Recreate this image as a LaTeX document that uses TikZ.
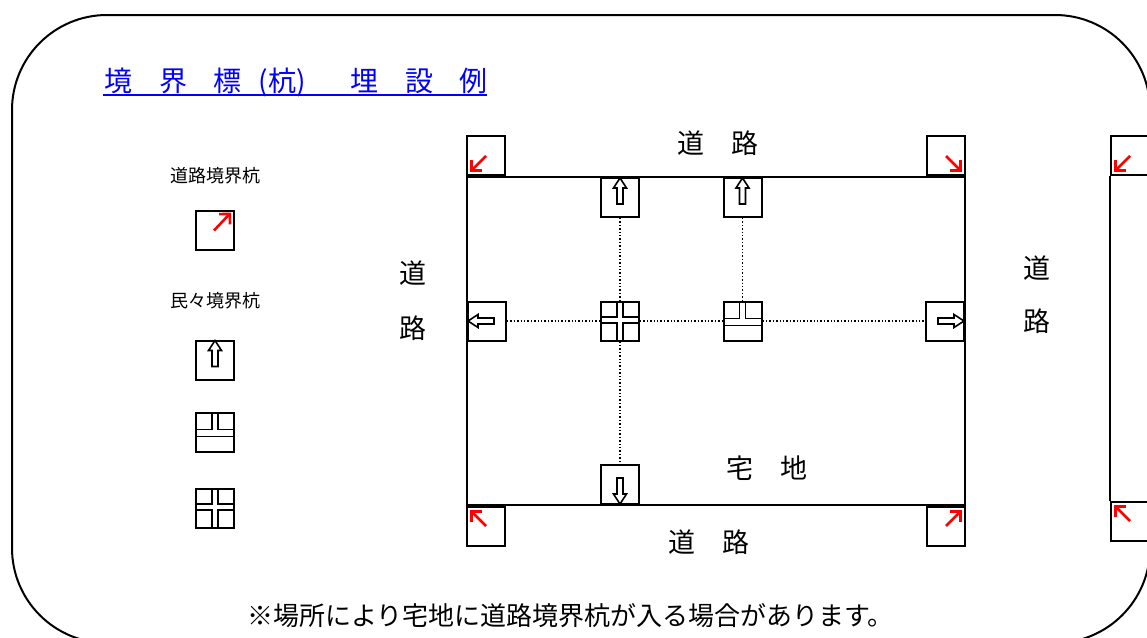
\documentclass[tikz,border=0pt]{standalone}
\usepackage{fontspec}
\newfontfamily\jpfont{Noto Sans CJK JP}
\usetikzlibrary{arrows.meta, positioning}

\newcommand{\jpsz}[1]{\jpfont\fontsize{#1}{#1}\selectfont}
% hollow block arrow, tip at #1, pointing to angle #2
\newcommand{\hollowarrow}[2]{%
    \draw[hollow, shift={(#1)}, rotate=#2] (-1,0) -- (-11,6.5) -- (-11,3) -- (-27,3)
        -- (-27,-3) -- (-11,-3) -- (-11,-6.5) -- cycle;}
% cross shaped peg mark
\newcommand{\crossmark}[1]{%
    \begin{scope}[shift={(#1.center)}]
        \draw[chan] (-3,-19.5) -- (-3,-4) -- (-19,-4);
        \draw[chan] (3,-19.5) -- (3,-4) -- (19,-4);
        \draw[chan] (-19,2) -- (-3,2) -- (-3,19.5);
        \draw[chan] (19,2) -- (3,2) -- (3,19.5);
    \end{scope}}
% T shaped peg mark
\newcommand{\teemark}[1]{%
    \begin{scope}[shift={(#1.center)}]
        \draw[chan] (-3,-19.5) -- (-3,-2.5) -- (-19,-2.5);
        \draw[chan] (3,-19.5) -- (3,-2.5) -- (19,-2.5);
        \draw[chan] (-19,4.5) -- (19,4.5);
    \end{scope}}

\begin{document}
\begin{tikzpicture}[x=1pt, y=-1pt,
    stake/.style={draw, line width=2pt, minimum width=38pt, minimum height=39pt, inner sep=0pt},
    lot/.style={draw, line width=2pt, minimum width=498pt, minimum height=328pt, inner sep=0pt},
    edge/.style={line width=2pt},
    hollow/.style={line width=1.6pt},
    chan/.style={line width=1.6pt},
    redarrow/.style={draw=red, line width=2.6pt, -{Straight Barb[length=7.5pt, width=15pt]}},
    dotline/.style={line width=1.6pt, dash pattern=on 1.4pt off 2pt},
    jp/.style={inner sep=0pt, anchor=base}]
    \useasboundingbox (0,0) rectangle (1147,637);
    \clip (0,0) rectangle (1147,637);

    % frame
    \draw[line width=2pt, rounded corners=95pt] (12,15) rectangle (1150,643);

    % title
    \foreach \c/\x [count=\i] in {境/118, 界/173, 標/227, (杭)/282, 埋/364, 設/419, 例/473.5}
        \node[jp, blue, font=\jpsz{28}] (title\i) at (\x,91) {\c};
    \draw[blue, line width=1.8pt] (103,95) -- (487,95);

    % legend
    \node[jp, font=\jpsz{18}] (roadpeg) at (215,182) {道路境界杭};
    \node[stake] (leg1) at (215,230) {};
    \node[jp, font=\jpsz{18}] (privpeg) at (215,307) {民々境界杭};
    \node[stake] (leg2) at (215,360) {};
    \node[stake] (leg3) at (215,432) {};
    \node[stake] (leg4) at (215,508) {};
    \hollowarrow{leg2.north}{90}
    \teemark{leg3}
    \crossmark{leg4}

    % lot
    \node[lot] (lot) at (716,341) {};
    \node[stake, anchor=south west] (tl) at (lot.north west) {};
    \node[stake, anchor=south east] (tr) at (lot.north east) {};
    \node[stake, anchor=north west] (bl) at (lot.south west) {};
    \node[stake, anchor=north east] (br) at (lot.south east) {};

    \node[stake, anchor=north] (up1) at (620,177) {};
    \node[stake, anchor=north] (up2) at (742.5,177) {};
    \node[stake, anchor=west] (lf) at (467,321) {};
    \node[stake] (cr) at (620,321) {};
    \node[stake] (tee) at (742.5,321) {};
    \node[stake, anchor=east] (rt) at (965,321) {};
    \node[stake, anchor=south] (dn) at (620,505) {};

    \draw[dotline] (up1) -- (cr);
    \draw[dotline] (cr) -- (dn);
    \draw[dotline] (up2) -- (tee);
    \draw[dotline] (lf) -- (cr);
    \draw[dotline] (cr) -- (tee);
    \draw[dotline] (tee) -- (rt);

    \hollowarrow{up1.north}{90}
    \hollowarrow{up2.north}{90}
    \hollowarrow{lf.west}{180}
    \hollowarrow{rt.east}{0}
    \hollowarrow{dn.south}{270}
    \crossmark{cr}
    \teemark{tee}

    % next lot
    \node[stake, anchor=south west] (ftr) at (1110,176) {};
    \node[stake, anchor=north west] (fbr) at (1110,501) {};
    \draw[edge] (ftr.south west) -- (fbr.north west);

    % road pegs
    \foreach \n/\a/\sx/\sy in {tl/south west/1/-1, tr/south east/-1/-1, bl/north west/1/1,
        br/north east/-1/1, ftr/south west/1/-1, fbr/north west/1/1}
        \draw[redarrow, shift={(\n.\a)}] (\sx*20,\sy*20) -- (\sx*4,\sy*4);
    \draw[redarrow, shift={(leg1.north east)}] (-21,21) -- (-4,3);

    % labels
    \node[jp, font=\jpsz{27}] (roadN) at (718,153) {道\hspace{27pt}路};
    \node[jp, font=\jpsz{27}] (roadS) at (709,552) {道\hspace{27pt}路};
    \node[jp, font=\jpsz{27}] (roadW1) at (413,283) {道};
    \node[jp, font=\jpsz{27}] (roadW2) at (413,338) {路};
    \node[jp, font=\jpsz{27}] (roadE1) at (1037,278) {道};
    \node[jp, font=\jpsz{27}] (roadE2) at (1037,331) {路};
    \node[jp, font=\jpsz{27}] (home) at (767,478) {宅\hspace{27pt}地};
    \node[jp, font=\jpsz{26}] (note) at (570.5,625) {※場所により宅地に道路境界杭が入る場合があります。};
\end{tikzpicture}
\end{document}
